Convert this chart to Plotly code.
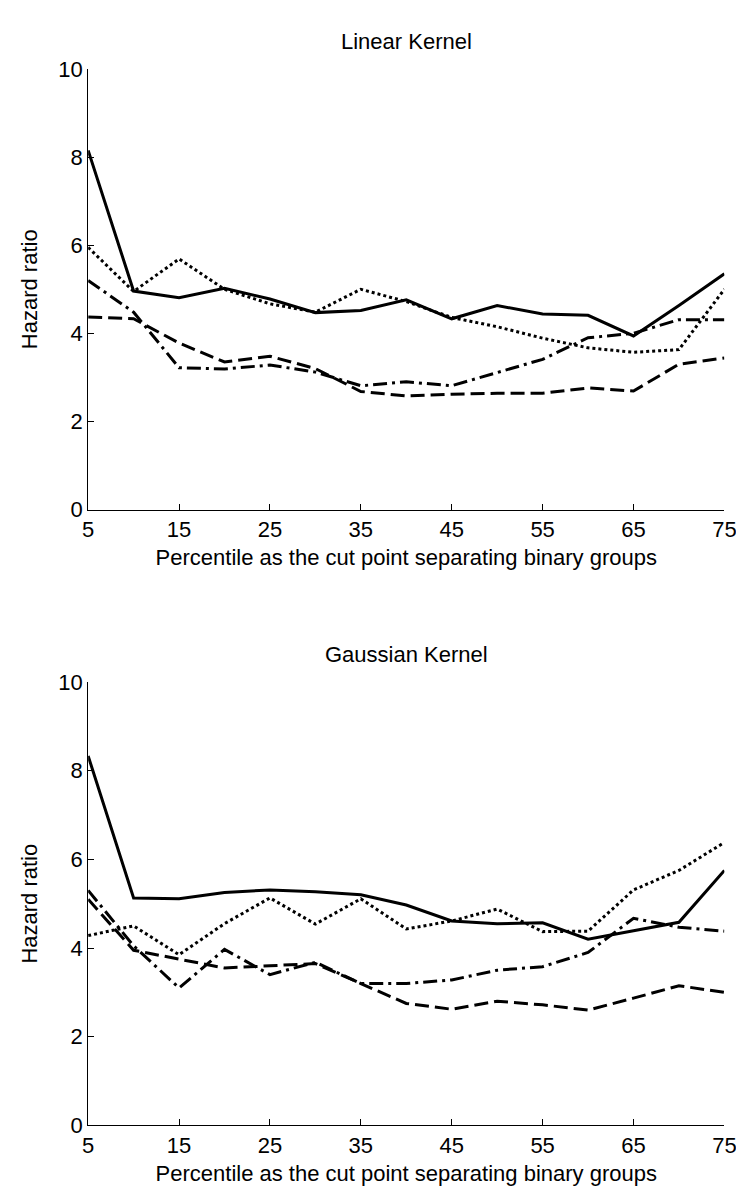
import plotly.graph_objects as go

pct = [5, 10, 15, 20, 25, 30, 35, 40, 45, 50, 55, 60, 65, 70, 75]

lin_solid = [8.15, 4.96, 4.81, 5.02, 4.78, 4.47, 4.52, 4.76, 4.33, 4.63, 4.44, 4.41, 3.94, 4.63, 5.35]
lin_dotted = [5.95, 4.95, 5.69, 5.0, 4.67, 4.48, 5.0, 4.72, 4.36, 4.15, 3.89, 3.67, 3.57, 3.63, 5.0]
lin_dashed = [4.37, 4.33, 3.78, 3.35, 3.48, 3.2, 2.68, 2.58, 2.62, 2.64, 2.64, 2.76, 2.69, 3.3, 3.44]
lin_dashdot = [5.2, 4.48, 3.22, 3.19, 3.28, 3.12, 2.81, 2.9, 2.81, 3.11, 3.41, 3.9, 4.0, 4.31, 4.31]

gau_solid = [8.33, 5.13, 5.11, 5.25, 5.31, 5.27, 5.2, 4.97, 4.61, 4.55, 4.57, 4.2, 4.39, 4.58, 5.75]
gau_dotted = [4.28, 4.5, 3.85, 4.55, 5.13, 4.54, 5.11, 4.43, 4.61, 4.88, 4.37, 4.38, 5.31, 5.75, 6.38]
gau_dashed = [5.1, 3.95, 3.75, 3.55, 3.6, 3.65, 3.2, 2.75, 2.62, 2.8, 2.72, 2.6, 2.87, 3.15, 3.0]
gau_dashdot = [5.3, 4.05, 3.1, 3.97, 3.4, 3.68, 3.2, 3.2, 3.28, 3.5, 3.58, 3.9, 4.67, 4.47, 4.38]

x_ticks = [5, 15, 25, 35, 45, 55, 65, 75]
y_ticks = [0, 2, 4, 6, 8, 10]
titles = ["Linear Kernel", "Gaussian Kernel"]
x_label = "Percentile as the cut point separating binary groups"
y_label = "Hazard ratio"

W, H = 744, 1199
FONT = "Liberation Sans Narrow, Arial Narrow, Liberation Sans, Arial, sans-serif"
FS = 22

styles = [("solid", "solid"), ("dotted", "3px,3px"), ("dashed", "14px,6px"), ("dashdot", "14px,5px,3px,5px")]

fig = go.Figure()

panels = [
    (["x", "y"], [lin_solid, lin_dotted, lin_dashed, lin_dashdot]),
    (["x2", "y2"], [gau_solid, gau_dotted, gau_dashed, gau_dashdot]),
]
for (xa, ya), series in panels:
    for (name, dash), vals in zip(styles, series):
        fig.add_trace(go.Scatter(
            x=pct, y=vals, mode="lines", xaxis=xa, yaxis=ya, name=name,
            line=dict(color="black", width=3, dash=dash),
            cliponaxis=False, showlegend=False,
        ))

xdom = [76 / W, 728 / W]
top_dom = [1 - 500 / H, 1 - 50 / H]
bot_dom = [1 - 1129 / H, 1 - 676 / H]

axis_common = dict(
    showline=True, linecolor="black", linewidth=1, mirror=False,
    ticks="inside", ticklen=6, tickwidth=1, tickcolor="black",
    showgrid=False, zeroline=False, ticklabeloverflow="allow",
    tickfont=dict(family=FONT, size=FS, color="black"),
)

fig.update_layout(
    width=W, height=H,
    margin=dict(l=0, r=0, t=0, b=0),
    paper_bgcolor="white", plot_bgcolor="white",
    font=dict(family=FONT, size=FS, color="black"),
    xaxis=dict(domain=xdom, anchor="y", range=[5, 75], tickvals=x_ticks,
               title=dict(text=x_label, standoff=8, font=dict(family=FONT, size=FS)), **axis_common),
    yaxis=dict(domain=top_dom, anchor="x", range=[0, 10], tickvals=y_ticks,
               title=dict(text=y_label, standoff=14, font=dict(family=FONT, size=FS)), **axis_common),
    xaxis2=dict(domain=xdom, anchor="y2", range=[5, 75], tickvals=x_ticks,
                title=dict(text=x_label, standoff=8, font=dict(family=FONT, size=FS)), **axis_common),
    yaxis2=dict(domain=bot_dom, anchor="x2", range=[0, 10], tickvals=y_ticks,
                title=dict(text=y_label, standoff=14, font=dict(family=FONT, size=FS)), **axis_common),
    annotations=[
        dict(text=titles[0], xref="paper", yref="paper", x=(xdom[0] + xdom[1]) / 2, y=1 - 22 / H,
             showarrow=False, xanchor="center", yanchor="middle", font=dict(family=FONT, size=FS)),
        dict(text=titles[1], xref="paper", yref="paper", x=(xdom[0] + xdom[1]) / 2, y=1 - 648 / H,
             showarrow=False, xanchor="center", yanchor="middle", font=dict(family=FONT, size=FS)),
    ],
)

fig.write_html("out.html")
